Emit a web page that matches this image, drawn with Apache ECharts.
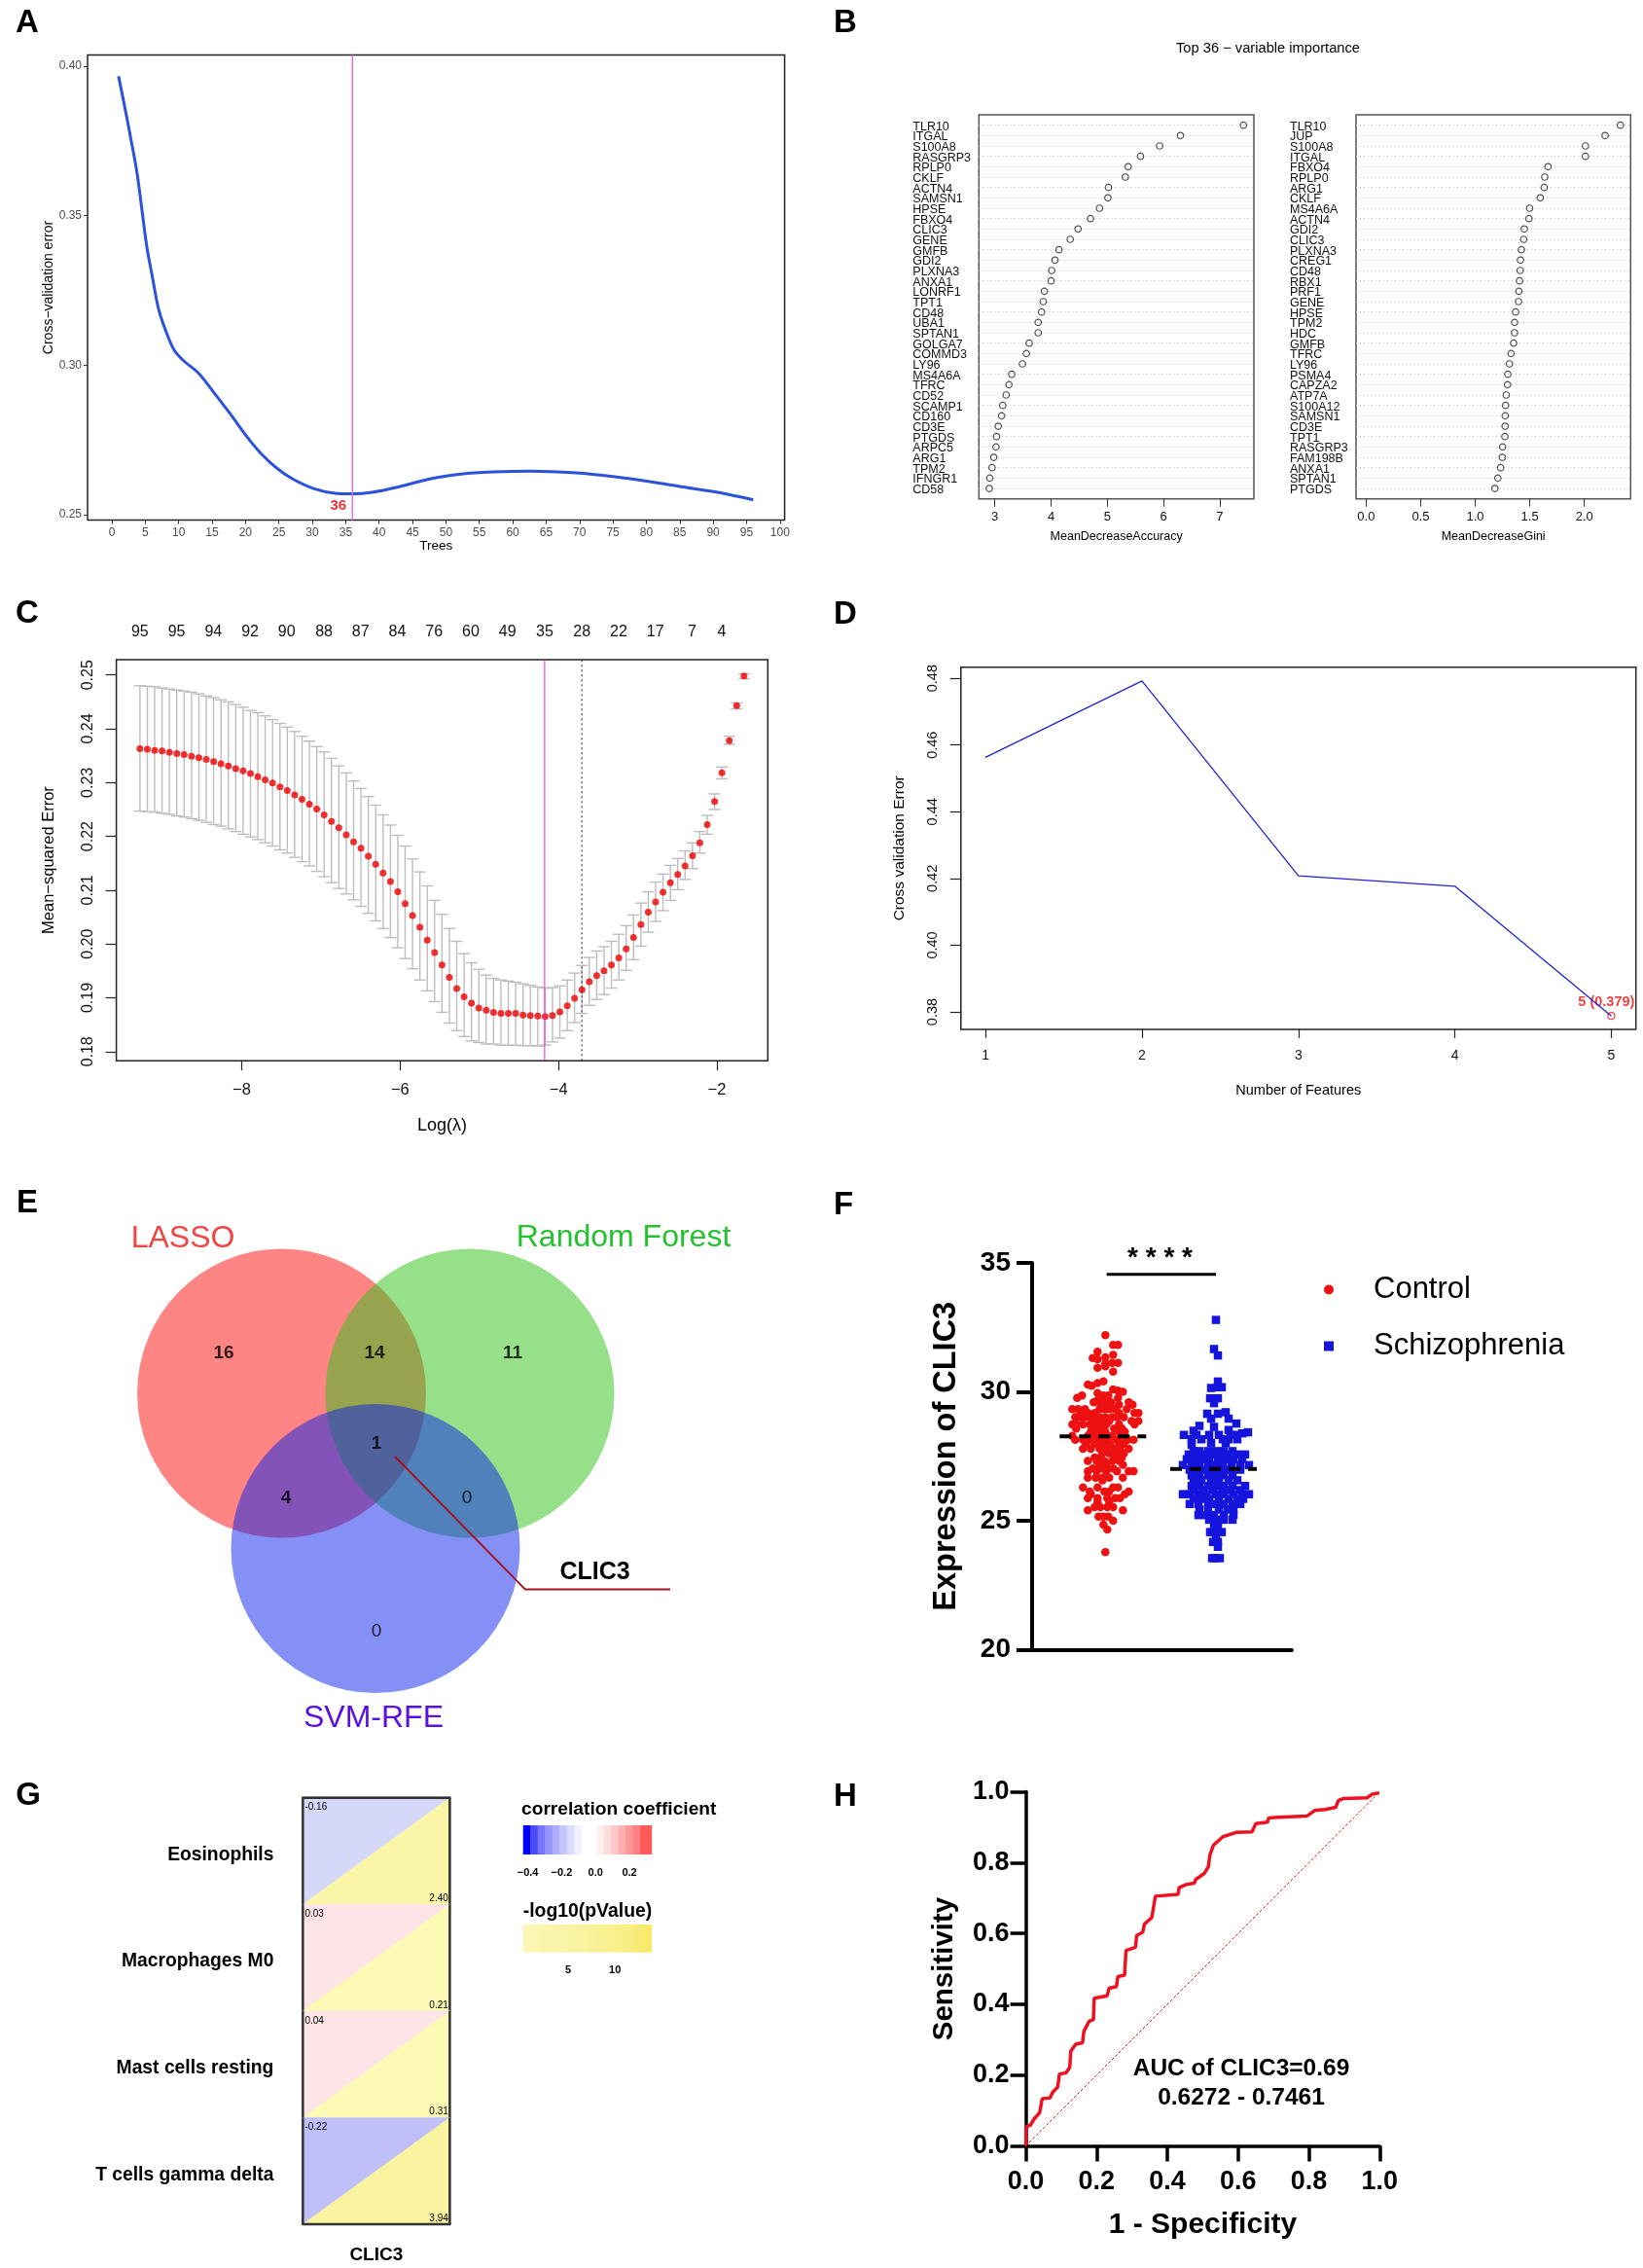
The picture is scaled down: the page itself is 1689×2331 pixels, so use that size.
<!DOCTYPE html>
<html><head><meta charset="utf-8"><title>CLIC3 feature selection panels</title>
<style>html,body{margin:0;padding:0;background:#fff}#c{width:1689px;height:2331px}</style>
<script src="https://cdn.jsdelivr.net/npm/echarts@6/dist/echarts.min.js"></script></head>
<body><div id="c"></div>
<script>
/* ---------- A: random forest CV error ---------- */
const treesX=[1,1.9,2.8,3.8,5.2,6,7,8.2,9.3,10.7,13,15.4,17.7,20.1,22.4,24.8,27.2,30.3,33.4,36,38.9,42.9,47.6,52.3,57,62.5,69.5,75,80.5,85.2,90.7,96];
const treesErr=[.3967,.3867,.3762,.3638,.3401,.3303,.3187,.3107,.3052,.3016,.2973,.2905,.2838,.2764,.2703,.2654,.2618,.2587,.2572,.2570,.2575,.2593,.2620,.2636,.2643,.2646,.2640,.2628,.2611,.2594,.2575,.2550];
const treesTicks=[0,5,10,15,20,25,30,35,40,45,50,55,60,65,70,75,80,85,90,95,100];
const treesErrTicks=[.25,.30,.35,.40];
const bestTrees=36;
/* ---------- B: variable importance ---------- */
const accNames=['TLR10','ITGAL','S100A8','RASGRP3','RPLP0','CKLF','ACTN4','SAMSN1','HPSE','FBXO4','CLIC3','GENE','GMFB','GDI2','PLXNA3','ANXA1','LONRF1','TPT1','CD48','UBA1','SPTAN1','GOLGA7','COMMD3','LY96','MS4A6A','TFRC','CD52','SCAMP1','CD160','CD3E','PTGDS','ARPC5','ARG1','TPM2','IFNGR1','CD58'];
const accValues=[7.42,6.30,5.93,5.59,5.37,5.32,5.02,5.01,4.86,4.70,4.48,4.34,4.14,4.07,4.01,4.00,3.88,3.86,3.83,3.77,3.77,3.61,3.56,3.49,3.30,3.25,3.20,3.14,3.12,3.06,3.03,3.02,2.98,2.95,2.91,2.90];
const giniNames=['TLR10','JUP','S100A8','ITGAL','FBXO4','RPLP0','ARG1','CKLF','MS4A6A','ACTN4','GDI2','CLIC3','PLXNA3','CREG1','CD48','RBX1','PRF1','GENE','HPSE','TPM2','HDC','GMFB','TFRC','LY96','PSMA4','CAPZA2','ATP7A','S100A12','SAMSN1','CD3E','TPT1','RASGRP3','FAM198B','ANXA1','SPTAN1','PTGDS'];
const giniValues=[2.33,2.19,2.01,2.01,1.667,1.637,1.632,1.596,1.498,1.492,1.45,1.444,1.423,1.415,1.412,1.406,1.40,1.397,1.37,1.361,1.36,1.352,1.328,1.313,1.299,1.296,1.284,1.278,1.275,1.274,1.272,1.251,1.248,1.233,1.207,1.18];
/* ---------- C: LASSO ---------- */
const logLambda=[-9.284,-9.191,-9.098,-9.005,-8.912,-8.819,-8.726,-8.633,-8.540,-8.447,-8.354,-8.261,-8.168,-8.075,-7.982,-7.889,-7.796,-7.703,-7.610,-7.517,-7.424,-7.331,-7.238,-7.145,-7.052,-6.959,-6.866,-6.773,-6.680,-6.587,-6.494,-6.401,-6.308,-6.215,-6.122,-6.029,-5.936,-5.843,-5.750,-5.657,-5.564,-5.471,-5.378,-5.285,-5.192,-5.099,-5.006,-4.913,-4.820,-4.727,-4.634,-4.541,-4.448,-4.355,-4.262,-4.169,-4.076,-3.983,-3.890,-3.797,-3.704,-3.611,-3.518,-3.425,-3.332,-3.239,-3.146,-3.053,-2.960,-2.867,-2.774,-2.681,-2.588,-2.495,-2.402,-2.309,-2.216,-2.123,-2.030,-1.937,-1.844,-1.751,-1.658];
const mse=[.2363,.2362,.2360,.2359,.2356,.2354,.2352,.2349,.2346,.2343,.2339,.2335,.2331,.2326,.2322,.2317,.2311,.2305,.2299,.2292,.2285,.2277,.2269,.2260,.2251,.2240,.2228,.2216,.2203,.2190,.2178,.2163,.2148,.2132,.2116,.2097,.2075,.2053,.2031,.2007,.1984,.1961,.1938,.1917,.1902,.1890,.1881,.1877,.1873,.1871,.1871,.1871,.1868,.1867,.1866,.1865,.1867,.1874,.1885,.1899,.1915,.1930,.1941,.1950,.1961,.1974,.1991,.2012,.2036,.2059,.2078,.2096,.2114,.2129,.2145,.2164,.2188,.2222,.2265,.2318,.2378,.2443,.2498];
const mseUpper=[.2480,.2479,.2478,.2476,.2474,.2472,.2470,.2468,.2465,.2461,.2458,.2454,.2450,.2445,.2440,.2434,.2430,.2424,.2417,.2410,.2403,.2395,.2386,.2377,.2367,.2357,.2345,.2331,.2318,.2303,.2289,.2274,.2258,.2240,.2221,.2202,.2182,.2158,.2134,.2108,.2081,.2055,.2029,.2005,.1982,.1965,.1953,.1942,.1936,.1933,.1931,.1929,.1926,.1923,.1920,.1918,.1919,.1922,.1933,.1946,.1960,.1975,.1987,.1995,.2005,.2018,.2034,.2054,.2076,.2097,.2115,.2130,.2146,.2159,.2173,.2188,.2209,.2239,.2279,.2329,.2386,.2448,.2502];
const mseLower=[.2247,.2246,.2245,.2243,.2241,.2238,.2236,.2233,.2230,.2226,.2222,.2219,.2214,.2209,.2204,.2199,.2194,.2188,.2182,.2175,.2169,.2161,.2153,.2145,.2135,.2125,.2114,.2103,.2093,.2082,.2070,.2057,.2043,.2029,.2012,.1993,.1973,.1954,.1933,.1913,.1893,.1873,.1853,.1839,.1828,.1820,.1817,.1814,.1814,.1812,.1812,.1812,.1811,.1811,.1810,.1812,.1818,.1825,.1839,.1854,.1871,.1886,.1897,.1906,.1918,.1933,.1951,.1971,.1996,.2022,.2042,.2062,.2081,.2101,.2120,.2140,.2169,.2204,.2250,.2307,.2371,.2437,.2493];
const lambdaMin=-4.175, lambda1se=-3.705;
const topDfX=[-9.284,-8.821,-8.357,-7.894,-7.431,-6.961,-6.498,-6.034,-5.571,-5.108,-4.645,-4.175,-3.705,-3.242,-2.778,-2.315,-1.938];
const topDf=[95,95,94,92,90,88,87,84,76,60,49,35,28,22,17,7,4];
const lassoXTicks=[-8,-6,-4,-2];
const lassoYTicks=[.18,.19,.20,.21,.22,.23,.24,.25];
/* ---------- D: SVM-RFE ---------- */
const rfeFeatures=[1,2,3,4,5];
const rfeError=[.4563,.4792,.4208,.4177,.3788];
const rfeYTicks=[.38,.40,.42,.44,.46,.48];
/* ---------- E: Venn ---------- */
const vennSets=['LASSO','Random Forest','SVM-RFE'];
const vennCentreX=[189.5,383,286];
const vennCentreY=[172,172,331.5];
const vennColours=['rgb(255,10,10)','rgb(47,193,21)','rgb(9,33,235)'];
const vennCounts=[['16',130,130.6,true],['14',285,130.6,true],['11',427,130.6,true],['1',287,224,true],['4',194,280,true],['0',380,280,false],['0',287,417,false]];
const vennLeaderX=[306,440,589], vennLeaderY=[237,373.6,373.6];
/* ---------- F: expression swarm: [value, offset, offset, ...] ---------- */
const controlRows=[[32.20,0],[31.82,8,13],[31.56,-8],[31.43,8],[31.34,0],[31.31,-13],[31.26,-8],[31.12,13,7],[31.09,0],[30.99,0],[30.93,-8],[30.78,8],[30.41,-2],[30.34,-8],[30.28,-18],[30.24,-14],[30.09,8],[30.05,13],[30.00,18],[29.95,-8],[29.86,-24,-2,3],[29.76,-29,13],[29.67,-8],[29.59,-12,-6,0,6,24],[29.50,28,14],[29.33,-34,-28,-21,-6,-1,4,10,22],[29.18,-25,-18,-11,14,30,34],[29.02,-31,-26,-21,-15,-6,0,7,12,19],[28.87,-11,-3,4,27,34],[28.74,-34,-29,-23,-16,-6,1,14,30],[28.58,-30,-11,-3,9,17],[28.45,-15,-6,0,14,20],[28.29,-34,-18,-10,-1,7,17],[28.14,-31,-23,-15,-6,2,12,23,29],[27.99,-20,-11,-3,5,14,19],[27.79,-23,-15,-6,1,9,15,24],[27.61,-3,4,12,19],[27.45,-11,-5,10,17],[27.32,-18,-9,-1,7,14],[27.17,-6,1,18],[27.03,-13,-3,8],[26.92,-18,-9,1,12,24,29],[26.67,-18,-10,-3,4,18],[26.57,-3],[26.29,-23,-8,13,8],[26.13,-16,-1,4,24],[26.03,20,-15],[25.88,-18,-8,2,10,15],[25.73,-8,4],[25.53,-11,-5,2,8],[25.41,-18,18],[25.16,-7,-2,3],[25.00,8],[24.85,-2],[24.66,2],[23.78,0]];
const schizRows=[[32.79,0],[31.66,-2],[31.41,2],[30.40,2],[30.18,2,6],[30.15,-5],[29.75,-6,2],[29.56,-2],[29.21,10],[29.15,-9,2],[28.96,-5,13],[28.77,21],[28.68,-17],[28.64,-2],[28.52,13],[28.49,-23],[28.43,33],[28.39,27],[28.33,-33,-20,-7,3,15,20],[28.16,-25,-15,7,13,22],[28.01,-5,10],[27.95,-25],[27.70,-23,-17,-8,0,8,17],[27.57,-28,-20,-13,-5,3,12,22,30],[27.39,-30,-23,-15,-7,2,10,18,27],[27.16,-34,-25,-17,-8,-1,7,16,25,34],[26.98,-27,-18,-10,-2,7,15,25],[26.76,-25,-17,-8,0,8,17],[26.57,-23,-15,-5,3,13,22],[26.35,-25,-17,-8,0,8,17,30],[26.19,-23,-13,-3,7,15,25],[26.03,-34,-27,-18,-10,0,8,18,27,34],[25.85,-23,-15,-7,3,13,22,28],[25.65,-27,-18,-8,0,8,17,25],[25.44,-17,-8,3,12,18],[25.22,-18,-10,-2,8,18],[25.04,-7,0,8,17],[24.86,-2,2],[24.56,-6,6,-2],[24.43,0],[24.18,-3,2],[23.99,2],[23.55,-4,0,4]];
const groupNames=['Control','Schizophrenia'];
const groupMedian=[28.27,27.01];
const groupCentre=[0,113.7];
const sigLevel=34.56;
/* ---------- G: immune correlation ---------- */
const immuneCells=['Eosinophils','Macrophages M0','Mast cells resting','T cells gamma delta'];
const immuneCorr=[-.16,.03,.04,-.22];
const immuneLogP=[2.40,.21,.31,3.94];
const corrColours=['#D6D8FA','#FDE4E6','#FDE4E6','#BFC0FA'];
const logPColours=['#FBF5A8','#FBF9B4','#FBF9B4','#FAF3A0'];
const corrBandEdges=[-.428,-.385,-.342,-.298,-.255,-.212,-.169,-.125,-.082,-.039,.004,.047,.091,.134,.177,.22,.263,.33];
const corrBandColours=['#0000FF','#4B4BFF','#7676FF','#9696FF','#AEAEFF','#C6C6FF','#DCDCFF','#F0F0FF','#FFFFFF','#FFFFFF','#FFF0F0','#FFDCDC','#FFC8C8','#FFB0B0','#FF9898','#FF8080','#FF5A5A'];
const corrTicks=[-.4,-.2,0,.2];
const logPBandEdges=[.18,1,2,3,4,5,6,7,8,9,10,11,12,13,13.9];
const logPBandColours=['#FBF8B6','#FBF7B2','#FAF6AE','#FAF5AA','#FAF5A6','#F9F4A2','#F9F39E','#F9F299','#F9F194','#F9F08E','#F9EF88','#F8ED80','#F8EB74','#F8E968'];
const logPTicks=[5,10];
/* ---------- H: ROC ---------- */
const rocFpr=[0,.001,.013,.024,.039,.046,.068,.076,.090,.095,.113,.124,.127,.141,.160,.164,.179,.191,.193,.230,.235,.256,.260,.279,.283,.310,.313,.330,.335,.356,.366,.430,.433,.453,.476,.480,.505,.516,.520,.530,.557,.594,.639,.650,.683,.686,.713,.794,.816,.846,.876,.883,.898,.964,.979,.999];
const rocTpr=[0,.054,.059,.077,.094,.133,.135,.152,.166,.203,.206,.222,.268,.287,.291,.324,.352,.357,.417,.424,.445,.450,.478,.482,.552,.561,.594,.603,.626,.645,.705,.710,.729,.738,.742,.752,.770,.789,.821,.849,.873,.885,.887,.910,.914,.926,.928,.931,.947,.950,.956,.975,.981,.983,.993,.997];

/* ---------- assembly ---------- */
const FF='"Liberation Sans",Arial,sans-serif';
const grid=[],xAxis=[],yAxis=[],series=[],graphic=[];
function panel(g,x,y){const gi=grid.length;grid.push(Object.assign({containLabel:false},g));
  xAxis.push(Object.assign({type:'value',gridIndex:gi},x));yAxis.push(Object.assign({type:'value',gridIndex:gi},y));
  return {x:xAxis.length-1,y:yAxis.length-1,g:gi};}
function txt(text,x,y,size,fill,opt){graphic.push({type:'text',x,y,rotation:(opt&&opt.rot)||0,silent:true,style:{text,fill:fill||'#000',fontFamily:FF,fontSize:size,fontWeight:(opt&&opt.bold)?'bold':'normal',align:(opt&&opt.align)||'center',verticalAlign:'middle'}});}
const box=(l,t,r,b,c,w)=>({left:l,top:t,width:r-l,height:b-t,show:true,borderColor:c||'#333',borderWidth:w||1.5,backgroundColor:'transparent'});
const label=(size,color,extra)=>Object.assign({fontFamily:FF,fontSize:size,color:color||'#000'},extra||{});
const nm=(name,gap,size,bold)=>({name,nameLocation:'middle',nameGap:gap,nameTextStyle:{fontFamily:FF,fontSize:size,color:'#000',fontWeight:bold?'bold':'normal'}});
const noLine={show:false,onZero:false};

/* panel letters */
[['A',28,24],['B',869,24],['C',28,631],['D',869,632],['E',28,1237],['F',867,1239],['G',29,1846],['H',869,1847]].forEach(a=>txt(a[0],a[1],a[2],33,'#000',{bold:true}));

/* A */
{const p=panel(box(90,56.4,806.6,534.6,'#222',1.5),
  Object.assign({min:-3.64,max:100.7,axisLine:noLine,axisTick:{show:true,length:4,lineStyle:{color:'#333'},customValues:treesTicks},axisLabel:label(12,'#4D4D4D',{customValues:treesTicks,margin:7}),splitLine:{show:false}},nm('Trees',19,13.5)),
  Object.assign({min:.2482,max:.4038,axisLine:noLine,axisTick:{show:true,length:4,lineStyle:{color:'#333'},customValues:treesErrTicks},axisLabel:label(12,'#4D4D4D',{customValues:treesErrTicks,margin:6,formatter:v=>v.toFixed(2)}),splitLine:{show:false}},nm('Cross−validation error',31,14)));
 series.push({name:'CV error',type:'line',xAxisIndex:p.x,yAxisIndex:p.y,smooth:.3,showSymbol:false,data:treesX.map((x,i)=>[x,treesErr[i]]),lineStyle:{color:'#2A52DC',width:3},silent:true});
 series.push({name:'best',type:'line',xAxisIndex:p.x,yAxisIndex:p.y,showSymbol:false,data:[[bestTrees,.2482],[bestTrees,.4038]],lineStyle:{color:'#F56CE8',width:1.5},silent:true});
 series.push({name:'bestLabel',type:'scatter',xAxisIndex:p.x,yAxisIndex:p.y,symbolSize:0,data:[[33.9,.2529]],silent:true,label:{show:true,position:'inside',formatter:String(bestTrees),fontFamily:FF,fontSize:15,fontWeight:'bold',color:'#EE0000'}});
}
/* B */
txt('Top 36 − variable importance',1303.5,50,14.7);
function dot(l,r,xmin,xmax,ticks,names,vals,xname,fmt){
 const p=panel(box(l,118,r,512.7,'#555',1.5),
  Object.assign({min:xmin,max:xmax,axisLine:noLine,axisTick:{show:true,length:8,lineStyle:{color:'#333'},customValues:ticks},axisLabel:label(13,'#111',{customValues:ticks,margin:12,formatter:fmt}),splitLine:{show:false}},nm(xname,32,12.5)),
  {min:-1,max:36,interval:1,inverse:true,axisLine:noLine,axisTick:{show:false},axisLabel:label(12.5,'#111',{align:'left',margin:68,verticalAlign:'top',lineHeight:3,showMinLabel:false,showMaxLabel:false,formatter:v=>names[v]||''}),splitLine:{show:true,showMinLine:false,showMaxLine:false,lineStyle:{color:'#BDBDBD',type:[1,3],width:1}}});
 series.push({name:xname,type:'scatter',xAxisIndex:p.x,yAxisIndex:p.y,symbol:'circle',symbolSize:6.5,silent:true,data:vals.map((v,i)=>[v,i]),itemStyle:{color:'rgba(255,255,255,0)',borderColor:'#222',borderWidth:1.2}});
}
dot(1006.3,1289,2.716,7.606,[3,4,5,6,7],accNames,accValues,'MeanDecreaseAccuracy',v=>String(v));
dot(1394,1676.3,-.092,2.424,[0,.5,1,1.5,2],giniNames,giniValues,'MeanDecreaseGini',v=>v.toFixed(1));
/* C */
{const p=panel(box(119.6,677.9,789.3,1090.2,'#222',1.5),
  Object.assign({min:-9.582,max:-1.358,axisLine:noLine,axisTick:{show:true,length:10,lineStyle:{color:'#222',width:1.2},customValues:lassoXTicks},axisLabel:label(16.5,'#111',{customValues:lassoXTicks,margin:22,formatter:v=>'−'+Math.abs(v)}),splitLine:{show:false}},nm('Log(λ)',58,18)),
  Object.assign({min:.1783,max:.25286,axisLine:noLine,axisTick:{show:true,length:11,lineStyle:{color:'#222',width:1.2},customValues:lassoYTicks},axisLabel:label(16,'#111',{customValues:lassoYTicks,rotate:90,margin:21,formatter:v=>v.toFixed(2)}),splitLine:{show:false}},nm('Mean−squared Error',61,16.5)));
 xAxis.push({type:'value',gridIndex:p.g,position:'top',min:-9.582,max:-1.358,axisLine:noLine,axisTick:{show:false},splitLine:{show:false},axisLabel:label(16,'#111',{customValues:topDfX,margin:20,formatter:v=>String(topDf[topDfX.indexOf(v)])})});
 const a={xAxisIndex:p.x,yAxisIndex:p.y,silent:true};
 series.push(Object.assign({name:'MSE range',type:'custom',data:logLambda.map((x,i)=>[x,mseLower[i],mseUpper[i]]),renderItem:(pr,api)=>{const x=api.value(0),lo=api.coord([x,api.value(1)]),hi=api.coord([x,api.value(2)]),st={stroke:'#BDBDBD',lineWidth:1.4};
   const ln=(x1,y1,x2,y2)=>({type:'line',shape:{x1,y1,x2,y2},style:st});
   return {type:'group',children:[ln(lo[0],lo[1],hi[0],hi[1]),ln(lo[0]-6,lo[1],lo[0]+6,lo[1]),ln(hi[0]-6,hi[1],hi[0]+6,hi[1])]};}},a));
 series.push(Object.assign({name:'lambda.min',type:'line',showSymbol:false,data:[[lambdaMin,.1783],[lambdaMin,.25286]],lineStyle:{color:'#EE22CC',width:1}},a));
 series.push(Object.assign({name:'lambda.1se',type:'line',showSymbol:false,data:[[lambda1se,.1783],[lambda1se,.25286]],lineStyle:{color:'#444',width:1.2,type:[2,3]}},a));
 series.push(Object.assign({name:'MSE',type:'scatter',symbol:'circle',symbolSize:7,data:logLambda.map((x,i)=>[x,mse[i]]),itemStyle:{color:'#EE0000'}},a));
}
/* D */
{const p=panel(box(987.8,685.8,1681.7,1057.9,'#222',1.5),
  Object.assign({min:.8427,max:5.157,axisLine:noLine,axisTick:{show:true,length:9,lineStyle:{color:'#222',width:1.2},customValues:rfeFeatures},axisLabel:label(14,'#111',{customValues:rfeFeatures,margin:20,formatter:v=>String(v)}),splitLine:{show:false}},nm('Number of Features',56,14.5)),
  Object.assign({min:.3748,max:.4833,axisLine:noLine,axisTick:{show:true,length:11,lineStyle:{color:'#222',width:1.2},customValues:rfeYTicks},axisLabel:label(14.5,'#111',{customValues:rfeYTicks,rotate:90,margin:21,formatter:v=>v.toFixed(2)}),splitLine:{show:false}},nm('Cross validation Error',55,15.5)));
 const a={xAxisIndex:p.x,yAxisIndex:p.y,silent:true};
 series.push(Object.assign({name:'RFE error',type:'line',showSymbol:false,data:rfeFeatures.map((x,i)=>[x,rfeError[i]]),lineStyle:{color:'#2222CC',width:1.3}},a));
 series.push(Object.assign({name:'RFE best',type:'scatter',symbol:'circle',symbolSize:7,data:[[rfeFeatures[4],rfeError[4]]],itemStyle:{color:'rgba(255,255,255,0)',borderColor:'#EE1111',borderWidth:1.2},label:{show:true,position:[-30,-18],formatter:'5 (0.379)',fontFamily:FF,fontSize:14.5,fontWeight:'bold',color:'#EE1111'}},a));
}
/* E */
{const p=panel({left:100,top:1260,width:650,height:540,show:false},{show:false,min:0,max:650},{show:false,min:0,max:540,inverse:true});
 const a={xAxisIndex:p.x,yAxisIndex:p.y,silent:true,clip:false};
 series.push(Object.assign({name:'venn',type:'scatter',symbol:'circle',symbolSize:297,data:vennCentreX.map((x,i)=>({value:[x,vennCentreY[i]],itemStyle:{color:vennColours[i],opacity:.5}}))},a));
 series.push(Object.assign({name:'leader',type:'line',showSymbol:false,data:vennLeaderX.map((x,i)=>[x,vennLeaderY[i]]),lineStyle:{color:'#A31322',width:2}},a));
 series.push(Object.assign({name:'counts',type:'scatter',symbolSize:0,data:vennCounts.map(c=>({value:[c[1],c[2]],label:{show:true,position:'inside',formatter:c[0],fontFamily:FF,fontSize:19,fontWeight:c[3]?'bold':'normal',color:'#000'}}))},a));
 txt(vennSets[0],188,1273,32,'#F04545');txt(vennSets[1],641,1272,32,'#24C22E');txt(vennSets[2],384,1766.5,32,'#5A10E0');
 txt('CLIC3',611.5,1616,25,'#000',{bold:true});
}
/* F */
{const p=panel({left:1061,top:1298,width:267,height:397.5,show:false},
  {min:-75.3,max:191.7,axisLine:{show:true,onZero:false,lineStyle:{color:'#000',width:4}},axisTick:{show:false},axisLabel:{show:false},splitLine:{show:false}},
  Object.assign({min:20,max:35,interval:5,axisLine:{show:true,onZero:false,lineStyle:{color:'#000',width:4}},axisTick:{show:true,length:16,lineStyle:{color:'#000',width:4}},axisLabel:label(28,'#000',{fontWeight:'bold',margin:22}),splitLine:{show:false}},nm('Expression of CLIC3',71,32.5,true)));
 const a={xAxisIndex:p.x,yAxisIndex:p.y,silent:true};
 const pts=(rows,c)=>rows.flatMap(r=>r.slice(1).map(o=>[c+o,r[0]]));
 series.push(Object.assign({name:groupNames[0],type:'scatter',symbol:'circle',symbolSize:8.5,data:pts(controlRows,groupCentre[0]),itemStyle:{color:'#EE1111',opacity:1}},a));
 series.push(Object.assign({name:groupNames[1],type:'scatter',symbol:'rect',symbolSize:8.5,data:pts(schizRows,groupCentre[1]),itemStyle:{color:'#1414DC',opacity:1}},a));
 groupMedian.forEach((m,i)=>series.push(Object.assign({name:'median'+i,type:'line',showSymbol:false,data:[[groupCentre[i]-47,m],[groupCentre[i]+42,m]],lineStyle:{color:'#000',width:4,type:[12,8]}},a)));
 series.push(Object.assign({name:'sig',type:'line',showSymbol:false,data:[[groupCentre[0]+1.3,sigLevel],[groupCentre[1],sigLevel]],lineStyle:{color:'#000',width:3}},a));
 txt('* * * *',1192.5,1293,28,'#000',{bold:true});
}
/* G */
{const p=panel(box(311.4,1847.7,462.3,2286,'#333',2),
  {type:'category',data:['CLIC3'],axisLine:{show:false},axisTick:{show:false},axisLabel:label(19,'#000',{fontWeight:'bold',margin:22})},
  {type:'category',data:immuneCells,inverse:true,axisLine:{show:false},axisTick:{show:false},axisLabel:label(19.3,'#000',{fontWeight:'bold',margin:30,verticalAlign:'top',lineHeight:8})});
 series.push({name:'immune',type:'custom',xAxisIndex:p.x,yAxisIndex:p.y,silent:true,data:immuneCells.map((c,i)=>[0,i,immuneCorr[i],immuneLogP[i]]),renderItem:(pr,api)=>{const i=api.value(1),c=api.coord([0,i]),s=api.size([1,1]),x0=c[0]-s[0]/2,x1=c[0]+s[0]/2,y0=c[1]-s[1]/2,y1=c[1]+s[1]/2;
   const tri=(pts,col)=>({type:'polygon',shape:{points:pts},style:{fill:col,stroke:col,lineWidth:.5}});
   const t=(text,x,y,al)=>({type:'text',style:{text,x,y,fill:'#000',fontFamily:FF,fontSize:10,align:al,verticalAlign:'middle'}});
   const ln=(a,b,d,e)=>({type:'line',shape:{x1:a,y1:b,x2:d,y2:e},style:{stroke:'#333',lineWidth:2.4}});
   const kids=[tri([[x0,y0],[x1,y0],[x0,y1]],corrColours[i]),tri([[x1,y0],[x1,y1],[x0,y1]],logPColours[i]),ln(x0,y0,x0,y1),ln(x1,y0,x1,y1)];
   if(i===0)kids.push(ln(x0-1,y0,x1+1,y0));
   if(i===immuneCells.length-1)kids.push(ln(x0-1,y1,x1+1,y1));
   kids.push(t(api.value(2).toFixed(2),x0+2,y0+10,'left'),t(api.value(3).toFixed(2),x1-1.5,y1-6,'right'));
   return {type:'group',children:kids};}});
 const bar=(top,bot,edges,cols,ticks,fmt,name)=>{const q=panel({left:537.7,top,width:132,height:bot-top,show:false},
   {min:edges[0],max:edges[edges.length-1],axisLine:noLine,axisTick:{show:false},splitLine:{show:false},axisLabel:label(11,'#000',{fontWeight:'bold',customValues:ticks,margin:13,formatter:fmt})},
   {min:0,max:1,show:false});
  series.push({name,type:'custom',xAxisIndex:q.x,yAxisIndex:q.y,silent:true,data:cols.map((c,i)=>[edges[i],edges[i+1],i]),renderItem:(pr,api)=>{const a=api.coord([api.value(0),1]),b=api.coord([api.value(1),0]);return {type:'rect',shape:{x:a[0],y:a[1],width:b[0]-a[0]+.5,height:b[1]-a[1]},style:{fill:cols[api.value(2)]}};}});};
 bar(1876,1906,corrBandEdges,corrBandColours,corrTicks,v=>(v<0?'−':'')+Math.abs(v).toFixed(1),'corrScale');
 bar(1977.8,2006.6,logPBandEdges,logPBandColours,logPTicks,v=>String(v),'logPScale');
 txt('correlation coefficient',536,1859.5,19.2,'#000',{bold:true,align:'left'});
 txt('-log10(pValue)',537.7,1964.5,19.4,'#000',{bold:true,align:'left'});
}
/* H */
{const p=panel({left:1054.6,top:1841.5,width:363.7,height:364,show:false},
  Object.assign({min:0,max:1,interval:.2,axisLine:{show:true,onZero:false,lineStyle:{color:'#000',width:3.5}},axisTick:{show:true,length:16,lineStyle:{color:'#000',width:3.5}},axisLabel:label(27,'#000',{fontWeight:'bold',margin:24,formatter:v=>v.toFixed(1)}),splitLine:{show:false}},nm('1 - Specificity',66,30,true)),
  Object.assign({min:0,max:1,interval:.2,axisLine:{show:true,onZero:false,lineStyle:{color:'#000',width:3.5}},axisTick:{show:true,length:16,lineStyle:{color:'#000',width:3.5}},axisLabel:label(27,'#000',{fontWeight:'bold',margin:17,formatter:v=>v.toFixed(1)}),splitLine:{show:false}},nm('Sensitivity',69,29.5,true)));
 const a={xAxisIndex:p.x,yAxisIndex:p.y,silent:true};
 series.push(Object.assign({name:'chance',type:'line',showSymbol:false,data:[[0,0],[1,1]],lineStyle:{color:'#EE1111',width:1,type:[3,2]}},a));
 series.push(Object.assign({name:'ROC',type:'line',showSymbol:false,data:rocFpr.map((x,i)=>[x,rocTpr[i]]),lineStyle:{color:'#EE1122',width:3.5}},a));
 txt('AUC of CLIC3=0.69',1276,2126,24.5,'#000',{bold:true});
 txt('0.6272 - 0.7461',1276,2156,24.5,'#000',{bold:true});
}
const chart=echarts.init(document.getElementById('c'),null,{renderer:'canvas',width:1689,height:2331});
chart.setOption({animation:false,backgroundColor:'#fff',tooltip:{show:false},
 legend:{data:[{name:groupNames[0],icon:'circle'},{name:groupNames[1],icon:'path://M0,0H10V10H0Z'}],orient:'vertical',left:1361,top:1310,padding:0,itemWidth:82,itemHeight:10,itemGap:27,selectedMode:false,textStyle:{fontFamily:FF,fontSize:31,color:'#000'}},
 grid,xAxis,yAxis,series,graphic:{elements:graphic}});
</script></body></html>
